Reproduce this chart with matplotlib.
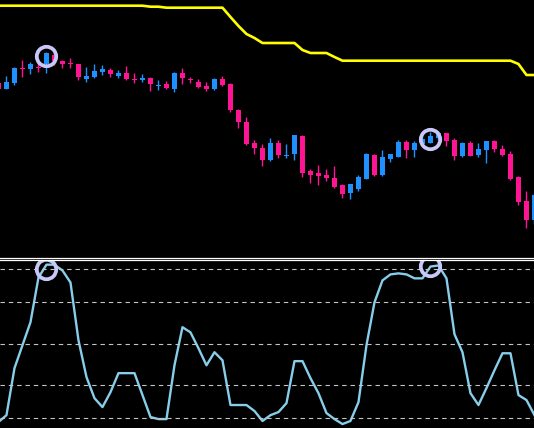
import matplotlib
matplotlib.use("Agg")
import matplotlib.pyplot as plt
import numpy as np

# price candles (points)
opens = [217, 211, 217, 232, 231, 233, 236, 245, 239, 237, 236, 221, 223, 228, 230, 224, 227,
         221, 220, 222, 214, 216, 211, 227, 221, 218, 214, 211, 221, 216, 190, 178, 157, 152,
         140, 157, 144, 146, 164, 129, 127, 125, 122, 115, 107, 111, 121, 145, 125, 141, 143,
         158, 150, 156, 157, 162, 167, 160, 144, 157, 145, 150, 159, 151, 146, 123, 99, 80]
closes = [211, 218, 232, 231, 236, 232, 247, 239, 236, 236, 223, 224, 229, 231, 226, 227, 221,
          220, 222, 216, 215, 212, 227, 222, 220, 213, 211, 221, 215, 190, 178, 156, 152, 140,
          157, 145, 145, 165, 127, 125, 124, 122, 113, 106, 116, 123, 146, 125, 143, 146, 158,
          150, 157, 161, 164, 167, 159, 144, 157, 144, 151, 159, 151, 145, 121, 98, 80, 105]
highs = [219, 224, 233, 240, 238, 237, 248, 247, 240, 242, 236, 233, 236, 235, 232, 230, 234,
         227, 226, 223, 220, 219, 228, 232, 223, 221, 218, 222, 224, 217, 191, 183, 160, 156,
         162, 160, 156, 165, 165, 131, 135, 131, 134, 116, 116, 125, 147, 146, 150, 146, 160,
         160, 159, 163, 168, 169, 167, 162, 158, 159, 157, 159, 160, 155, 149, 124, 109, 107]
lows = [210, 211, 215, 223, 226, 228, 227, 235, 232, 232, 220, 218, 222, 225, 223, 222, 220,
        217, 218, 209, 210, 211, 208, 216, 217, 212, 209, 210, 214, 188, 172, 155, 146, 134,
        139, 142, 142, 140, 123, 117, 115, 119, 112, 102, 101, 109, 121, 124, 124, 138, 143,
        142, 143, 155, 157, 160, 154, 140, 143, 144, 143, 137, 148, 144, 120, 95, 72, 76]

# trailing line above price
band = [294.3] * 19 + [293.3] * 2 + [292.3] * 8 + [283, 274, 266, 262] + [257] * 5 + \
       [250, 247, 247, 247, 243] + [239.3] * 22 + [236, 225, 225]

# oscillator
osc = [12.2, 15.5, 38.2, 49.3, 60.4, 82.0, 88.2, 88.2, 85.4, 79.6, 51.7, 33.9, 23.7, 19.4,
       26.6, 35.8, 35.8, 35.8, 25.2, 14.6, 13.6, 13.6, 39.6, 58.0, 55.5, 47.8, 39.6, 45.9,
       42.0, 20.4, 20.4, 20.4, 17.5, 12.7, 15.5, 17.0, 21.3, 41.6, 41.6, 33.4, 26.1, 16.5,
       13.6, 11.2, 12.7, 21.8, 49.3, 70.0, 80.6, 83.5, 84.0, 83.5, 81.6, 81.6, 87.3, 87.8,
       81.6, 54.6, 45.9, 26.1, 20.4, 28.6, 37.2, 45.4, 45.4, 25.2, 22.8, 15.5]
levels = [14, 30, 50, 70, 86]

# signal markers
sig_idx = [6, 54]
sig_price = [244, 161]
sig_osc = [85.9, 87.5]

up_col = "#1e90ff"
dn_col = "#ff1493"
ring = "#c8c8f8"

fig = plt.figure(figsize=(5.34, 4.28), dpi=100, facecolor="black")
ax1 = fig.add_axes([0, 1 - 258 / 428, 1, 258 / 428])
ax2 = fig.add_axes([0, 0, 1, 168.5 / 428])

x = np.arange(len(opens))
o = np.array(opens, float)
c = np.array(closes, float)
cols = [up_col if cc > oo else dn_col for oo, cc in zip(o, c)]
body_lo = np.minimum(o, c)
body_h = np.maximum(np.abs(c - o), 1.0)

ax1.vlines(x, lows, highs, colors=cols, linewidth=1.0)
ax1.bar(x, body_h, bottom=body_lo, width=0.62, color=cols, linewidth=0)
ax1.plot(x, band, color="#ffff00", linewidth=1.9)
ax1.plot(sig_idx, sig_price, "o", markersize=14, markerfacecolor="none",
         markeredgecolor=ring, markeredgewidth=2.7)

ax2.plot(x, osc, color="#87ceeb", linewidth=1.7)
for lv in levels:
    ax2.axhline(lv, color="#c4c4c4", linewidth=0.8, linestyle=(0, (4, 3.5)))
ax2.plot(sig_idx, sig_osc, "o", markersize=14, markerfacecolor="none",
         markeredgecolor=ring, markeredgewidth=2.7)

for ax in (ax1, ax2):
    ax.set_facecolor("black")
    ax.set_xlim(0.19, 66.94)
    ax.set_xticks([])
    ax.set_yticks([])
    for s in ax.spines.values():
        s.set_visible(False)

ax1.set_ylim(42, 300)
ax2.set_ylim(9.3, 90.7)
ax1.spines["bottom"].set_visible(True)
ax1.spines["bottom"].set_color("white")
ax1.spines["bottom"].set_linewidth(0.9)
ax2.spines["top"].set_visible(True)
ax2.spines["top"].set_color("white")
ax2.spines["top"].set_linewidth(0.9)

fig.savefig("out.png", dpi=100, facecolor="black")
